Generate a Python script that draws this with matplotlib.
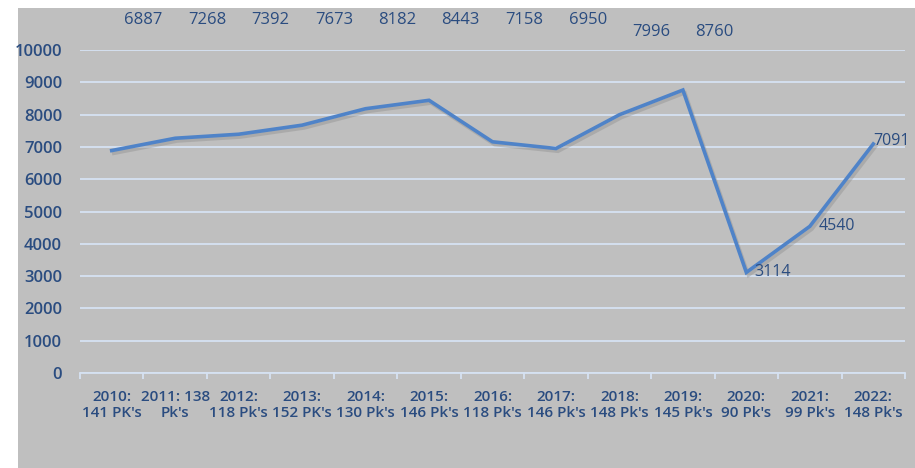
import matplotlib
matplotlib.use("Agg")
import matplotlib.pyplot as plt
import matplotlib.patheffects as pe
from matplotlib.patches import Rectangle

# data
years = ["2010:\n141 PK's", "2011: 138\nPk's", "2012:\n118 Pk's", "2013:\n152 PK's",
         "2014:\n130 Pk's", "2015:\n146 Pk's", "2016:\n118 Pk's", "2017:\n146 Pk's",
         "2018:\n148 Pk's", "2019:\n145 Pk's", "2020:\n90 Pk's", "2021:\n99 Pk's",
         "2022:\n148 Pk's"]
values = [6887, 7268, 7392, 7673, 8182, 8443, 7158, 6950, 7996, 8760, 3114, 4540, 7091]
yticks = [0, 1000, 2000, 3000, 4000, 5000, 6000, 7000, 8000, 9000, 10000]

text_col = "#2a4c80"
line_col = "#4f83c8"
grid_col = "#d6e2f2"
plt.rcParams['font.family'] = ['Open Sans', 'DejaVu Sans']

fig = plt.figure(figsize=(9.15, 4.68), dpi=100)
bg = Rectangle((18 / 915, 0), 1, (468 - 8) / 468, transform=fig.transFigure,
               facecolor="#bfbfbf", edgecolor="none", zorder=-10)
fig.add_artist(bg)
ax = fig.add_axes([80 / 915, 1 - 373 / 468, (905 - 80) / 915, (373 - 50) / 468])
ax.set_facecolor("none")
ax.set_zorder(1)

x = list(range(len(values)))
ax.plot(x, values, color=line_col, lw=2.6, solid_joinstyle="miter",
        path_effects=[pe.SimpleLineShadow(offset=(1.5, -2), shadow_color="#8c8c8c", alpha=0.4),
                      pe.Normal()], zorder=3)

ax.set_xlim(-0.5, len(values) - 0.5)
ax.set_ylim(0, 10000)
ax.set_yticks(yticks)
ax.set_yticklabels([str(v) for v in yticks])
ax.grid(axis="y", color=grid_col, lw=1.3)
ax.set_axisbelow(True)
for s in ["top", "right", "left"]:
    ax.spines[s].set_visible(False)
ax.spines["bottom"].set_color(grid_col)
ax.spines["bottom"].set_linewidth(1.3)

ax.set_xticks(x)
ax.set_xticklabels(years, linespacing=1.25)
ax.set_xticks([i - 0.5 for i in range(len(values) + 1)], minor=True)
ax.tick_params(axis="x", which="major", length=0, pad=12, labelsize=11, labelcolor=text_col)
ax.tick_params(axis="x", which="minor", length=4, color=grid_col, width=1.3)
ax.tick_params(axis="y", length=0, pad=13, labelsize=12, labelcolor=text_col)
for lab in ax.get_xticklabels() + ax.get_yticklabels():
    lab.set_fontweight("semibold")

# value labels: first ten in a row above the plot, last three beside the point
side_offsets = {10: (6, 0), 11: (6, 0), 12: (0, 2)}
for i, v in enumerate(values):
    if i < 8:
        ax.text(i + 0.5, 10930, str(v), ha="center", va="center", fontsize=12,
                color=text_col, fontweight="medium", clip_on=False)
    elif i < 10:
        ax.text(i + 0.5, 10560, str(v), ha="center", va="center", fontsize=12,
                color=text_col, fontweight="medium", clip_on=False)
    else:
        ax.annotate(str(v), (i, v), xytext=side_offsets[i], textcoords="offset points",
                    ha="left", va="center", fontsize=11.5, color=text_col,
                    fontweight="medium")

fig.savefig("out.png", dpi=100)
